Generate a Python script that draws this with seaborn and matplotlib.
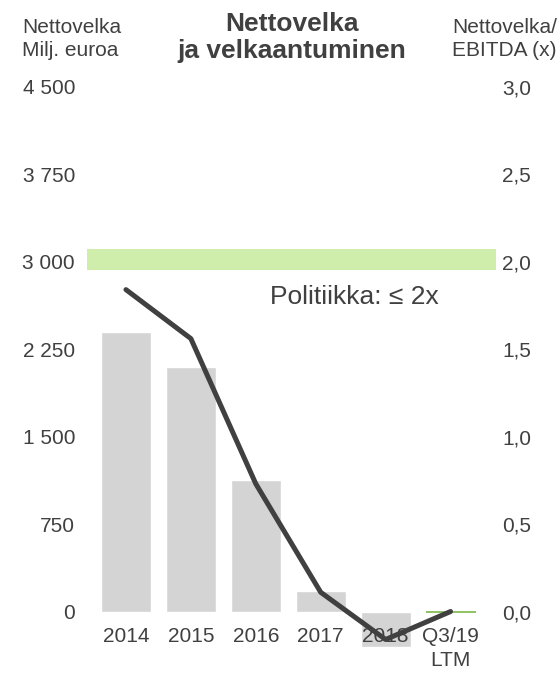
import numpy as np
import matplotlib
matplotlib.use("Agg")
import matplotlib.pyplot as plt
import pandas as pd
import seaborn as sns

# Data
periods = ["2014", "2015", "2016", "2017", "2018", "Q3/19\nLTM"]
net_debt = [2400, 2100, 1130, 178, -305, 0]          # Milj. euroa (left axis)
leverage = [1.84, 1.56, 0.73, 0.11, -0.16, 0.0]      # Nettovelka / EBITDA (right axis)
left_ticks = [0, 750, 1500, 2250, 3000, 3750, 4500]
right_ticks = [0.0, 0.5, 1.0, 1.5, 2.0, 2.5, 3.0]
policy_band = (1.95, 2.07)

txt = "#404040"
sns.set_style("white")
plt.rcParams["font.family"] = ["Liberation Sans", "DejaVu Sans"]

df = pd.DataFrame({"period": periods, "net_debt": net_debt, "leverage": leverage})
df["pos"] = np.arange(len(df))

fig = plt.figure(figsize=(5.6, 6.73), dpi=100)
ax = fig.add_axes([87 / 560, 1 - 664 / 673, (496 - 87) / 560, (664 - 86.7) / 673])

# bars - net debt
sns.barplot(data=df, x="period", y="net_debt", color="#d4d4d4", width=0.77,
            saturation=1, ax=ax)
# last period is ~zero, shown as a thin green line
ax.patches[-1].set_edgecolor("#7ab648")
ax.patches[-1].set_linewidth(1.2)

ax.set_axisbelow(False)
ax.set_xlim(-0.6, 5.7)
ax.set_ylim(-450, 4500)
ax.set_yticks(left_ticks)
ax.set_yticklabels([f"{v:,}".replace(",", " ") for v in left_ticks])
ax.set_xlabel("")
ax.set_ylabel("")
for s in ax.spines.values():
    s.set_visible(False)
ax.spines["bottom"].set_position(("data", 0))
ax.tick_params(axis="y", length=0, pad=8.6, labelsize=15, labelcolor=txt)
ax.tick_params(axis="x", length=0, pad=11.5, labelsize=15, labelcolor=txt)
for lab in ax.get_xticklabels():
    lab.set_linespacing(1.3)

# right axis - net debt / EBITDA
ax2 = ax.twinx()
ax2.set_ylim(-0.3, 3.0)
ax2.axhspan(*policy_band, color="#d0eeab", lw=0, zorder=0)
sns.lineplot(data=df, x="pos", y="leverage", color="#404040", lw=3.6, ax=ax2)
ax2.set_yticks(right_ticks)
ax2.set_yticklabels([f"{v:.1f}".replace(".", ",") for v in right_ticks])
ax2.set_ylabel("")
ax2.set_xlabel("")
for s in ax2.spines.values():
    s.set_visible(False)
ax2.tick_params(axis="y", length=0, pad=4.3, labelsize=15, labelcolor=txt)
ax2.text(3.52, 1.80, "Politiikka: \u2264 2x", ha="center", va="center",
         fontsize=19, color=txt)

# header texts
fig.text(22 / 560, 1 - 39 / 673, "Nettovelka\nMilj. euroa", ha="left",
         va="center", fontsize=15, color=txt, linespacing=1.25)
fig.text(452 / 560, 1 - 39 / 673, "Nettovelka/\nEBITDA (x)", ha="left",
         va="center", fontsize=15, color=txt, linespacing=1.25)
fig.text(292 / 560, 1 - 37.5 / 673, "Nettovelka\nja velkaantuminen", ha="center",
         va="center", fontsize=19, fontweight="bold", color=txt, linespacing=1.2)

fig.savefig("out.png", dpi=100)
